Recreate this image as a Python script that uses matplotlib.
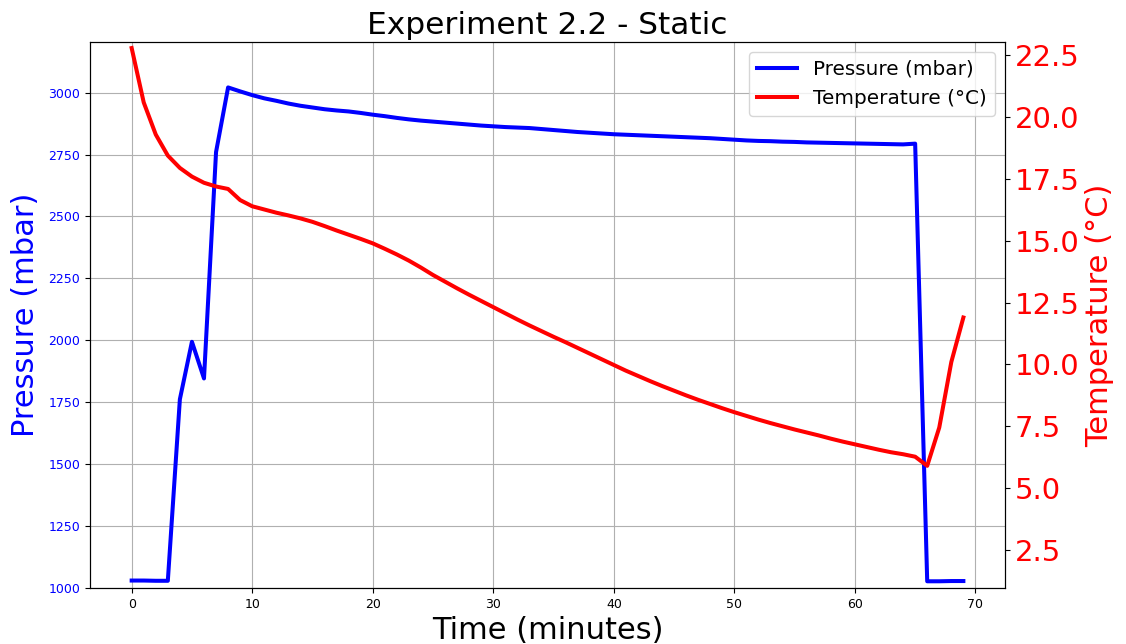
import matplotlib.pyplot as plt
import numpy as np

# Time in minutes, one sample per minute
minutes = np.arange(0, 70)

pressure_mbar = [
    1030, 1030, 1029, 1029, 1762, 1994, 1846, 2760, 3021, 3005,
    2990, 2977, 2967, 2956, 2947, 2940, 2933, 2928, 2924, 2918,
    2911, 2905, 2898, 2892, 2887, 2883, 2879, 2875, 2871, 2867,
    2864, 2861, 2859, 2857, 2853, 2849, 2845, 2841, 2838, 2835,
    2832, 2830, 2828, 2826, 2824, 2822, 2820, 2818, 2816, 2813,
    2810, 2807, 2805, 2804, 2802, 2801, 2799, 2798, 2797, 2796,
    2795, 2794, 2793, 2792, 2791, 2794, 1027, 1027, 1028, 1028,
]

temperature_c = [
    22.8, 20.6, 19.3, 18.45, 17.95, 17.6, 17.35, 17.2, 17.1, 16.65,
    16.4, 16.27, 16.14, 16.03, 15.91, 15.77, 15.6, 15.42, 15.25, 15.08,
    14.9, 14.68, 14.45, 14.2, 13.92, 13.62, 13.35, 13.08, 12.82, 12.57,
    12.32, 12.07, 11.82, 11.58, 11.35, 11.12, 10.9, 10.67, 10.44, 10.21,
    9.98, 9.75, 9.54, 9.33, 9.13, 8.94, 8.75, 8.57, 8.4, 8.23,
    8.07, 7.92, 7.77, 7.63, 7.5, 7.37, 7.25, 7.13, 7.0, 6.88,
    6.77, 6.66, 6.55, 6.45, 6.37, 6.27, 5.9, 7.45, 10.1, 11.9,
]


def main():
    fig, ax1 = plt.subplots(figsize=(11.26, 6.44), dpi=100)
    fig.subplots_adjust(left=0.080, right=0.8925, top=0.935, bottom=0.087)

    line1, = ax1.plot(minutes, pressure_mbar, color="blue", linewidth=2.9,
                      label="Pressure (mbar)")
    ax1.set_ylim(1000, 3205)
    ax1.set_xlabel("Time (minutes)", fontsize=22)
    ax1.set_ylabel("Pressure (mbar)", color="blue", fontsize=22, labelpad=6)
    ax1.tick_params(axis="y", labelcolor="blue", labelsize=9)
    ax1.tick_params(axis="x", labelsize=9)
    ax1.grid(True)

    ax2 = ax1.twinx()
    line2, = ax2.plot(minutes, temperature_c, color="red", linewidth=2.9,
                      label="Temperature (°C)")
    ax2.set_ylim(0.96, 23.05)
    ax2.set_ylabel("Temperature (°C)", color="red", fontsize=22)
    ax2.tick_params(axis="y", labelcolor="red", labelsize=21)

    ax2.legend(handles=[line1, line2], loc="upper right", fontsize=14.4)
    ax1.set_title("Experiment 2.2 - Static", fontsize=22.5)

    plt.savefig("out.png", dpi=100)


if __name__ == "__main__":
    main()
